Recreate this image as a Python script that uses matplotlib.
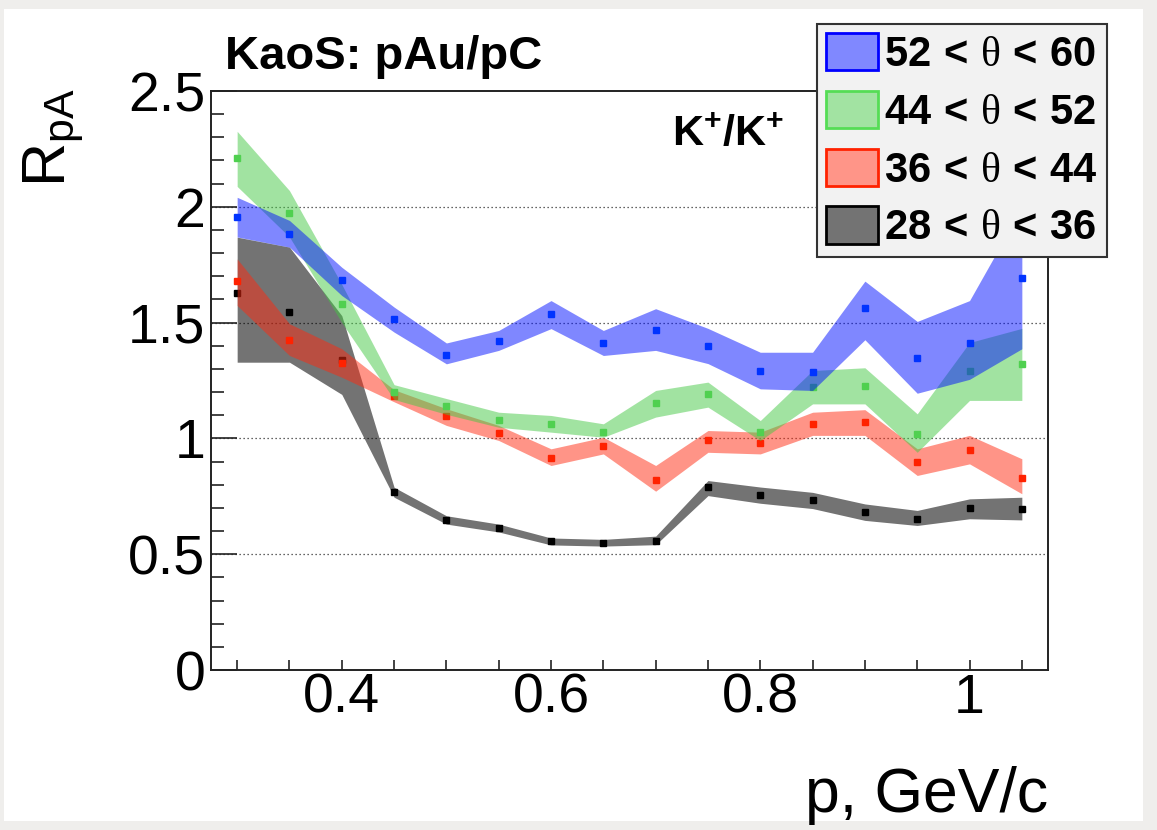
import matplotlib
matplotlib.use("Agg")
import matplotlib.pyplot as plt
import matplotlib.colors as mcolors
from matplotlib.patches import Patch, Rectangle
from matplotlib.ticker import MultipleLocator, FuncFormatter

plt.rcParams['font.family'] = ['Liberation Sans', 'DejaVu Sans']
plt.rcParams['mathtext.fontset'] = 'custom'
plt.rcParams['mathtext.rm'] = 'Liberation Sans'
plt.rcParams['mathtext.bf'] = 'Liberation Sans:bold'
plt.rcParams['mathtext.it'] = 'Liberation Sans:italic'
plt.rcParams['mathtext.sf'] = 'Liberation Serif'

# momentum bins, GeV/c
p = [0.30, 0.35, 0.40, 0.45, 0.50, 0.55, 0.60, 0.65,
     0.70, 0.75, 0.80, 0.85, 0.90, 0.95, 1.00, 1.05]

# 52 < theta < 60
r_52_60 = [1.957, 1.882, 1.682, 1.516, 1.362, 1.420, 1.536, 1.411,
           1.470, 1.398, 1.293, 1.288, 1.564, 1.345, 1.414, 1.692]
lo_52_60 = [1.870, 1.826, 1.617, 1.459, 1.322, 1.380, 1.474, 1.358,
            1.380, 1.323, 1.214, 1.207, 1.426, 1.195, 1.255, 1.387]
hi_52_60 = [2.041, 1.941, 1.739, 1.567, 1.412, 1.466, 1.595, 1.466,
            1.560, 1.475, 1.372, 1.372, 1.679, 1.505, 1.595, 1.995]

# 44 < theta < 52
r_44_52 = [2.212, 1.972, 1.581, 1.200, 1.139, 1.080, 1.064, 1.028,
           1.151, 1.193, 1.028, 1.220, 1.228, 1.017, 1.289, 1.320]
lo_44_52 = [2.088, 1.870, 1.500, 1.168, 1.104, 1.048, 1.027, 1.005,
            1.092, 1.135, 0.991, 1.149, 1.149, 0.940, 1.164, 1.164]
hi_44_52 = [2.326, 2.070, 1.665, 1.232, 1.172, 1.113, 1.099, 1.063,
            1.207, 1.243, 1.077, 1.293, 1.305, 1.106, 1.414, 1.475]

# 36 < theta < 44
r_36_44 = [1.680, 1.426, 1.326, 1.182, 1.096, 1.023, 0.916, 0.968,
           0.821, 0.991, 0.979, 1.063, 1.069, 0.899, 0.952, 0.830]
lo_36_44 = [1.574, 1.358, 1.264, 1.158, 1.056, 0.991, 0.883, 0.933,
            0.772, 0.940, 0.933, 1.013, 1.013, 0.840, 0.890, 0.761]
hi_36_44 = [1.775, 1.495, 1.387, 1.210, 1.128, 1.056, 0.955, 1.005,
            0.883, 1.034, 1.027, 1.113, 1.124, 0.955, 1.013, 0.912]

# 28 < theta < 36
r_28_36 = [1.627, 1.544, 1.340, 0.768, 0.648, 0.612, 0.555, 0.549,
           0.559, 0.789, 0.755, 0.732, 0.681, 0.651, 0.699, 0.697]
lo_28_36 = [1.329, 1.329, 1.190, 0.746, 0.630, 0.596, 0.540, 0.535,
            0.541, 0.753, 0.720, 0.697, 0.646, 0.624, 0.653, 0.648]
hi_28_36 = [1.869, 1.826, 1.530, 0.789, 0.666, 0.630, 0.570, 0.564,
            0.578, 0.818, 0.790, 0.767, 0.717, 0.689, 0.739, 0.746]

labels = [r'$\mathbf{52}\,\mathbf{<}\,\mathsf{\theta}\,\mathbf{<}\,\mathbf{60}$',
          r'$\mathbf{44}\,\mathbf{<}\,\mathsf{\theta}\,\mathbf{<}\,\mathbf{52}$',
          r'$\mathbf{36}\,\mathbf{<}\,\mathsf{\theta}\,\mathbf{<}\,\mathbf{44}$',
          r'$\mathbf{28}\,\mathbf{<}\,\mathsf{\theta}\,\mathbf{<}\,\mathbf{36}$']

series = [
    # (values, lower, upper, band colour, marker colour, edge colour)
    (r_52_60, lo_52_60, hi_52_60, '#0010ff', '#0033ff', '#0000ff'),
    (r_44_52, lo_44_52, hi_44_52, '#45c845', '#50d050', '#55dd55'),
    (r_36_44, lo_36_44, hi_36_44, '#ff2a10', '#ff2200', '#ff2200'),
    (r_28_36, lo_28_36, hi_28_36, '#000000', '#000000', '#000000'),
]

W, H = 1157, 830
fig = plt.figure(figsize=(W / 100, H / 100), dpi=100)
fig.patch.set_facecolor('#efeeec')
fig.patches.append(Rectangle((4 / W, 9 / H), (1143 - 4) / W, (821 - 9) / H,
                             transform=fig.transFigure, facecolor='white',
                             edgecolor='none', zorder=-10))

ax = fig.add_axes([211 / W, 1 - 670 / H, (1048 - 211) / W, (670 - 91) / H])
ax.set_facecolor('white')
ax.set_xlim(0.275, 1.075)
ax.set_ylim(0, 2.5)

for yv in [0.5, 1.0, 1.5, 2.0]:
    ax.axhline(yv, color='#333333', lw=0.9, ls=(0, (1, 2.2)), zorder=1)

# draw from the lowest band up so the upper bands sit on top
for i, (vals, lo, hi, bc, mc, ec) in enumerate(reversed(series)):
    z = 2 + 2 * i
    alpha = 0.55 if bc == '#000000' else 0.5
    ax.fill_between(p, lo, hi, color=bc, alpha=alpha, lw=0, zorder=z)
    ax.plot(p, vals, ls='none', marker='s', ms=5, color=mc, mec=mc,
            zorder=z + 1)

for s in ax.spines.values():
    s.set_linewidth(1.4)
    s.set_color('#222222')
    s.set_zorder(20)

ax.xaxis.set_major_locator(MultipleLocator(0.2))
ax.xaxis.set_minor_locator(MultipleLocator(0.05))
ax.yaxis.set_major_locator(MultipleLocator(0.5))
ax.yaxis.set_minor_locator(MultipleLocator(0.1))
fmt = FuncFormatter(lambda v, pos: ('%g' % round(v, 3)))
ax.xaxis.set_major_formatter(fmt)
ax.yaxis.set_major_formatter(fmt)
ax.tick_params(axis='both', which='both', direction='in', color='#222222',
               width=1.2, top=False, right=False)
ax.tick_params(axis='y', which='major', length=18.5, pad=4, labelsize=40)
ax.tick_params(axis='y', which='minor', length=9)
ax.tick_params(axis='x', which='major', length=7.5, pad=2, labelsize=40)
ax.tick_params(axis='x', which='minor', length=7.5)

fig.text(1048 / W, 1 - 812 / H, 'p, GeV/c', ha='right', va='baseline',
         fontsize=45)
fig.text(54 / W, 1 - 88 / H, r'$\mathrm{R}_{\mathrm{pA}}$', rotation=90,
         ha='center', va='top', fontsize=44)
fig.text(225 / W, 1 - 69 / H, 'KaoS: pAu/pC', ha='left', va='baseline',
         fontsize=34, fontweight='bold')
fig.text(672 / W, 1 - 146 / H, r'$\mathbf{K^{+}/K^{+}}$', ha='left',
         va='baseline', fontsize=31)

handles = []
for (_, _, _, bc, _, ec) in series:
    r, g, b = mcolors.to_rgb(bc)
    a = 0.55 if bc == '#000000' else 0.5
    face = (1 - a + a * r, 1 - a + a * g, 1 - a + a * b)
    handles.append(Patch(facecolor=face, edgecolor=ec, lw=2))

leg = ax.legend(handles, labels, loc='upper left',
                bbox_to_anchor=(817 / W, 1 - 24 / H),
                bbox_transform=fig.transFigure, fontsize=30,
                frameon=True, fancybox=False, framealpha=1,
                facecolor='#f2f2f2', edgecolor='#333333',
                borderpad=0.22, borderaxespad=0, handlelength=1.25,
                handleheight=1.0, handletextpad=0.15, labelspacing=0.38)
leg.get_frame().set_linewidth(1.5)
leg.set_zorder(30)

fig.savefig('out.png', dpi=100, facecolor=fig.get_facecolor())
